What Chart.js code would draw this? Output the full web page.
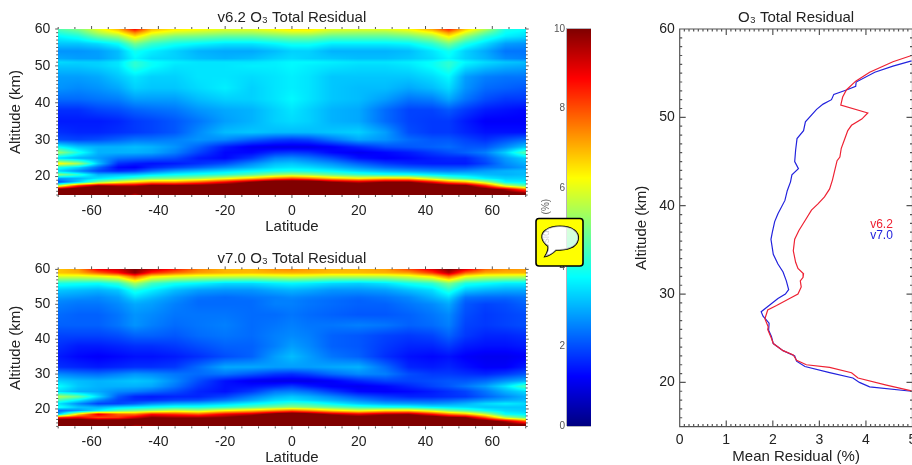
<!DOCTYPE html>
<html><head><meta charset="utf-8">
<style>
html,body{margin:0;padding:0;width:912px;height:465px;overflow:hidden;background:#fff}
canvas{position:absolute}
svg{position:absolute;left:0;top:0}
</style>
<script src="https://cdn.jsdelivr.net/npm/chart.js@4"></script>
</head><body>
<canvas id="top" width="535" height="240" style="left:0;top:0"></canvas>
<canvas id="bottom" width="535" height="240" style="left:0;top:240px"></canvas>
<canvas id="bar" width="70" height="480" style="left:530px;top:0"></canvas>
<canvas id="line" width="320" height="480" style="left:620px;top:0"></canvas>
<svg width="912" height="465">
<path fill-rule="evenodd" d="M539 218.5 H580 A3 3 0 0 1 583 221.5 V263 A3 3 0 0 1 580 266 H539 A3 3 0 0 1 536 263 V221.5 A3 3 0 0 1 539 218.5 Z M548 246 C541 241 540 234 546 230 C552 225 568 225 574 230 C581 235 579 245 570 248 C565 250 560 250 556 250 C552 254 548 256 545 256.5 C547 253 549 250 548 246 Z" fill="#ffff00" stroke="#000" stroke-width="1.6"/>
<path d="M548 246 C541 241 540 234 546 230 C552 225 568 225 574 230 C581 235 579 245 570 248 C565 250 560 250 556 250 C552 254 548 256 545 256.5 C547 253 549 250 548 246 Z" fill="#fff" fill-opacity=".7"/>
</svg>
<script>
const lats=[-70,-64,-58,-52,-47,-42,-35,-28,-20,-12,-5,0,5,12,20,28,35,42,47,52,58,64,70];
const alts=[60,59,58,56,54,52,51,50,47,44,41,38,35,32,30,28,26.5,25,23.5,22.5,21.5,20.5,19.5,18.5,17.5,16.5,15];
const residualV62=[
[4.5,5,6,7,8.8,7,6.5,6.3,6,6,6.3,6.5,6.5,6,6,6,6.3,7.2,8.5,6.8,5.5,4,3.8],
[4.1,4.5,5.5,6.2,7.5,6.3,5.8,5.6,5.4,5.4,5.6,5.8,5.8,5.4,5.3,5.3,5.6,6.2,7.3,6,4.8,3.8,3.6],
[3.7,4,4.8,5.3,6.5,5.5,5,4.9,4.7,4.7,4.9,5,5,4.7,4.7,4.7,4.9,5.4,6.4,5.2,4.2,3.6,3.4],
[3.2,3.2,3.4,3.8,4.9,4.3,3.9,3.7,3.5,3.5,3.7,3.9,3.9,3.6,3.6,3.6,3.7,4.2,4.9,4,3.4,2.8,2.7],
[2.7,2.7,2.8,3.1,3.9,3.6,3.3,3,2.9,2.9,3.1,3.3,3.3,3,3,3,3.1,3.5,3.9,3.3,2.9,2.4,2.4],
[2.9,2.8,2.8,3.1,3.7,3.4,3.3,3.1,3,3.1,3.3,3.4,3.3,3.2,3.1,3.1,3.2,3.4,3.7,3.3,3,2.6,2.5],
[3.4,3.3,3.3,3.5,4.2,3.8,3.6,3.5,3.5,3.5,3.6,3.7,3.7,3.6,3.5,3.5,3.6,3.8,4.2,3.7,3.4,3.2,3.1],
[3.2,3.2,3.3,3.5,4.2,3.8,3.5,3.5,3.5,3.6,3.6,3.7,3.6,3.5,3.4,3.4,3.5,3.8,4.2,3.5,3.2,3,2.9],
[2.8,2.8,2.9,3.2,3.5,3.3,3.3,3.5,3.5,3.4,3.5,3.6,3.5,3.2,3.2,3.2,3.2,3.4,3.7,2.8,2.5,2.4,2.4],
[2.7,2.6,2.7,2.9,3.3,3.2,3.2,3.4,3.6,3.3,3.5,3.6,3.5,3.2,3.1,3.1,2.9,3.1,3.4,2.7,2.3,2.2,2.1],
[2.3,2.3,2.4,2.5,2.8,2.8,2.8,3.1,3.3,3.3,3.5,3.7,3.5,3.2,3.1,2.8,2.4,2.5,2.9,2.4,2,1.8,1.8],
[1.7,1.7,1.9,2,2.2,2.3,2.4,2.7,2.9,3,3.3,3.5,3.3,3,2.9,2.3,1.9,1.9,2.1,1.8,1.5,1.4,1.3],
[1.5,1.5,1.5,1.6,1.8,1.9,2.1,2.4,2.8,3,3.3,3.4,3.3,3,2.9,2.3,1.9,1.8,1.8,1.5,1.2,1.2,1.2],
[1.7,1.6,1.6,1.7,1.8,1.9,2.1,2.6,3.1,3.2,3.1,3.1,3.1,3.2,3.3,2.8,2,1.8,1.8,1.6,1.4,1.4,1.4],
[2,1.9,2,2.2,2.4,2.4,2.5,2.7,2.6,2.2,1.9,1.8,1.9,2.4,2.9,2.7,2.3,2.1,2.1,1.9,1.7,2,2.3],
[3.8,3.2,3,3,3.1,3,2.7,2.2,1.5,1.1,1,1,1,1.2,1.6,2,2.1,2.2,2.3,2.1,2.1,2.6,3.2],
[5.3,4,3,3,3,2.9,2.5,1.9,1.3,1.3,1.7,1.8,1.7,1.3,1.1,1.3,1.5,1.8,2,2.2,2.5,3.3,4.6],
[3.4,3,2.8,2.4,2.3,2.2,2,1.5,1.3,1.8,2.5,2.6,2.4,2,1.4,1.2,1.3,1.5,1.6,1.6,2.1,2.8,3.3],
[6.4,5.4,3.2,1.7,1.5,1.4,1.5,1.7,2,2.6,3.1,3.2,3,2.7,2.2,1.8,1.6,1.5,1.5,1.5,1.9,2.6,3],
[4,3.4,2.3,1.3,1.2,1.6,1.9,2.2,2.6,3,3.4,3.5,3.4,3.1,2.7,2.3,2.1,2,2,2,2.3,2.5,2.8],
[3.3,2.6,1.9,1.6,1.8,2.3,2.8,3.1,3.4,3.7,3.9,4,3.9,3.7,3.3,3,2.8,2.6,2.5,2.6,2.8,3,3.1],
[5.2,4.2,3,3.1,3.2,3.5,3.8,4,4.2,4.6,5.2,5.4,5.2,4.7,4.3,4,3.9,3.6,3.4,3.3,3.1,3,3.1],
[2.8,3,3.5,3.9,4.4,4.8,5,5.3,6,6.8,7.6,8,7.6,6.8,6.3,6.7,6.6,5.5,4.7,4.2,3.6,3.3,3.3],
[1.9,3.2,5,6,6.6,7.2,7.2,7.8,8.8,10,11,11,11,10,9.4,10,10,8.8,7.6,7,5.5,3.7,3.6],
[5.5,8.5,10,9.6,9.6,10.3,10.2,10.4,10.8,11,11,11,11,11,10.8,11,11,11,10.6,10.3,8.4,5.8,4.6],
[10.5,11,11,11,11,11,11,11,11,11,11,11,11,11,11,11,11,11,11,11,10.6,9.6,7.8],
[11,11,11,11,9.3,11,11,11,11,11,11,11,11,11,11,11,11,11,11,11,11,11,11]];
const residualV70=[
[6.8,7.2,8.8,9.2,10,9.3,8.5,7.5,7,7,7.3,7.4,7.2,7,7,7.2,8,9,10,9,7.7,7.3,7.2],
[6.8,7,7.8,8.6,9.9,8.4,7.7,7.2,7,6.9,7,7,7,6.9,6.9,7,7.2,8.2,9.5,7.8,7.1,7,7],
[5.9,5.9,6.1,6.5,7.9,6.5,6.1,5.9,5.8,5.7,5.8,5.9,5.8,5.6,5.6,5.6,5.9,6.5,7.7,6.2,5.8,5.7,5.6],
[4,3.9,3.8,4.2,5.4,4.4,3.9,3.7,3.4,3.4,3.6,3.7,3.6,3.4,3.3,3.5,3.9,4.2,5,4,3.8,3.6,3.6],
[3.2,3.1,3,3.2,4,3.6,3.1,2.8,2.7,2.7,2.9,3,2.9,2.7,2.7,2.8,3.1,3.4,4.1,3.2,3,2.9,2.9],
[2.8,2.7,2.6,2.8,3.4,3.1,2.7,2.4,2.3,2.4,2.5,2.6,2.5,2.4,2.3,2.4,2.6,3,3.4,2.4,2.3,2.3,2.4],
[2.6,2.5,2.5,2.7,3.1,2.9,2.6,2.3,2.3,2.3,2.5,2.5,2.4,2.3,2.2,2.3,2.5,2.8,3.1,2.2,2.1,2.1,2.3],
[2.5,2.4,2.4,2.6,2.9,2.8,2.5,2.3,2.3,2.3,2.5,2.5,2.4,2.3,2.2,2.2,2.4,2.6,2.9,2.1,1.9,2,2.2],
[2.3,2.2,2.2,2.4,2.7,2.6,2.4,2.4,2.4,2.3,2.3,2.4,2.3,2.2,2.1,2.1,2.2,2.4,2.6,2,1.8,1.9,2],
[2.2,2.2,2.2,2.4,2.7,2.5,2.3,2.4,2.5,2.3,2.4,2.5,2.4,2.4,2.5,2.4,2.2,2.3,2.5,1.9,1.8,1.9,2],
[1.9,1.9,1.9,2,2.2,2.2,2.1,2.3,2.4,2.3,2.5,2.6,2.5,2.2,2.1,1.9,1.8,1.9,2.2,1.8,1.6,1.6,1.7],
[1.7,1.5,1.5,1.6,1.7,1.7,1.8,2,2.2,2.2,2.5,2.8,2.6,2.2,2.1,1.8,1.6,1.6,1.8,1.5,1.4,1.4,1.5],
[1.5,1.3,1.2,1.3,1.4,1.4,1.5,1.7,2,2.2,2.8,3.1,2.8,2.4,2.2,1.7,1.4,1.3,1.4,1.2,1.1,1.1,1.2],
[1.7,1.6,1.5,1.6,1.7,1.7,1.8,2.3,2.9,2.9,2.8,2.8,2.8,2.9,3,2.3,1.6,1.5,1.6,1.4,1.2,1.2,1.5],
[2.6,2.4,2.3,2.5,2.7,2.6,2.4,2.3,2.4,2.1,1.8,1.7,1.9,2.3,2.6,2.5,2,1.8,1.8,1.7,1.6,1.8,2.1],
[3.3,3.1,3,3.1,3.2,3.1,2.6,2,1.4,1.1,1,1,1,1.2,1.6,1.9,1.9,2,2.1,2.1,2.3,2.7,3],
[3.8,3.2,3,3,3,2.9,2.4,1.8,1.4,1.4,1.6,1.8,1.5,1.2,1.1,1.3,1.6,1.9,2.1,2.4,2.8,3.5,4.5],
[3.4,3,2.9,2.6,2.5,2.3,2,1.6,1.4,1.8,2.4,2.5,2.3,1.8,1.3,1.2,1.3,1.5,1.7,1.9,2.4,3,3.4],
[5.5,4.8,3.4,2.1,1.6,1.5,1.6,1.6,1.9,2.5,3,3.2,3,2.6,2.1,1.8,1.6,1.6,1.7,1.8,2.2,2.6,3],
[4.4,3.6,2.6,1.9,1.7,1.7,1.9,2,2.4,2.9,3.4,3.5,3.3,3,2.6,2.2,2.1,2.1,2.2,2.4,2.7,2.9,3.1],
[3.5,2.6,1.9,1.9,2.2,2.6,2.9,3,3.3,3.7,4,4.3,4.2,3.7,3.2,2.9,2.8,2.7,2.8,3,3.4,3.6,3.4],
[4,3.2,3,3.4,3.6,3.8,4,4,4.2,4.6,5,5.2,5,4.7,4.3,4,3.9,3.6,3.5,3.4,3.2,3.2,3.2],
[2.2,2.7,3.6,4.6,5,5.3,5.8,5.5,6.3,6.8,7.4,7.8,7.4,6.6,6,6.6,6.6,5.8,5,4.5,3.8,3.4,3.3],
[3,6.5,9,7.8,7.6,8.6,8.3,7.9,8.9,9.4,10.5,11,10.5,9.6,9,9.6,9.8,8.6,7.6,7,5.6,3.8,3.6],
[8.6,9,8,8.3,9.2,10,9.8,9.8,10,10.8,11,11,11,11,10.6,11,11,11,10.3,10,8,5.6,4.6],
[11,11,11,11,11,11,11,11,11,11,11,11,11,11,11,11,11,11,11,11,10.6,9.5,7.8],
[11,11,11,11,9.3,9.6,10.3,11,11,11,11,11,11,11,11,11,11,11,11,11,11,11,11]];
const profileAltV62=[57,56.3,55.1,54.1,53.1,52.3,51.4,50.5,49.8,49.1,48.5,47.5,46.5,45.5,45.1,44,42.9,41.9,41,40.2,39.5,38.3,37.2,36.2,34.9,33.6,32.9,32.3,31.9,31.5,30.8,30,29.5,28.7,28.2,27.2,26.3,26,25,24.4,23.6,23.1,22.5,22,21.7,21.1,20.5,19.7,19.05];
const profileValV62=[4.98,4.58,4.08,3.78,3.58,3.5,3.46,4.04,3.91,3.69,3.61,3.54,3.47,3.44,3.38,3.33,3.28,3.22,3.11,2.97,2.83,2.69,2.56,2.47,2.44,2.49,2.54,2.66,2.65,2.59,2.61,2.54,2.36,2.08,1.89,1.83,1.9,1.89,1.97,2.01,2.22,2.44,2.51,2.72,3.22,3.69,3.83,4.44,4.98];
const profileAltV70=[56.4,55.8,55.1,54,53.5,53.1,52.6,52,51.5,50.9,49.5,48.5,47.6,46.3,45,44.2,43.5,42.7,41.7,40.6,39.1,38.2,37,36.2,34.5,33.4,32.5,31.5,30.5,30,29.5,28,27.5,26.7,25.9,25.2,24.4,23.6,23,22.4,21.8,21.1,20.5,20,19.5,19];
const profileValV70=[4.98,4.58,4.19,3.79,3.78,3.58,3.31,3.26,3.08,2.94,2.7,2.66,2.52,2.49,2.47,2.55,2.41,2.38,2.31,2.26,2.11,2.04,1.99,1.96,2.01,2.11,2.22,2.29,2.34,2.27,2.11,1.75,1.79,1.92,1.91,1.97,2.01,2.22,2.47,2.51,2.69,3.22,3.72,3.86,4.08,4.98];
const latTicks=[-60,-40,-20,0,20,40,60];
const altTicks=[20,30,40,50,60];
const meanTicks=[0,1,2,3,4,5];
const scaleTicks=[0,2,4,6,8,10];
const seriesNames=['v6.2','v7.0'];

const FONT='"Liberation Sans",Arial,sans-serif';
const TXT='#222';
const clamp=(x)=>Math.max(0,Math.min(1,x));
function jet(v){const t=clamp(v/10);return [
  clamp(Math.min(4*t-1.5,-4*t+4.5))*255,
  clamp(Math.min(4*t-0.5,-4*t+3.5))*255,
  clamp(Math.min(4*t+0.5,-4*t+2.5))*255];}
function sample(grid,lat,alt){
  let i=0;while(i<lats.length-2&&lat>lats[i+1])i++;
  let j=0;while(j<alts.length-2&&alt<alts[j+1])j++;
  const a=clamp((lat-lats[i])/(lats[i+1]-lats[i]));
  const b=clamp((alts[j]-alt)/(alts[j]-alts[j+1]));
  return (grid[j][i]*(1-a)+grid[j][i+1]*a)*(1-b)+(grid[j+1][i]*(1-a)+grid[j+1][i+1]*a)*b;
}
const paintHeat={id:'paintHeat',beforeDatasetsDraw(c,_,o){
  if(!o.grid)return;
  const A=c.chartArea,x=c.scales.x,y=c.scales.y;
  const x0=Math.round(A.left),y0=Math.round(A.top),w=Math.round(A.right)-x0,h=Math.round(A.bottom)-y0;
  const img=c.ctx.createImageData(w,h);let k=0;
  for(let py=0;py<h;py++){const alt=y.getValueForPixel(y0+py+.5);
    for(let px=0;px<w;px++){const lat=x.getValueForPixel(x0+px+.5);
      const col=jet(sample(o.grid,lat,alt));
      img.data[k++]=col[0];img.data[k++]=col[1];img.data[k++]=col[2];img.data[k++]=255;}}
  c.ctx.putImageData(img,x0,y0);
}};
const paintBar={id:'paintBar',beforeDatasetsDraw(c,_,o){
  if(!o.on)return;
  const A=c.chartArea,y=c.scales.y,ctx=c.ctx;
  for(let py=Math.floor(A.top);py<A.bottom;py++){
    const col=jet(y.getValueForPixel(py+.5));
    ctx.fillStyle=`rgb(${col[0]},${col[1]},${col[2]})`;
    ctx.fillRect(A.left,py,A.right-A.left,1.2);
  }
  ctx.fillStyle='#b4b4bc';
  ctx.fillRect(A.left-1,A.top-1,A.right-A.left+1,1);
  ctx.fillRect(A.left-1,A.top,1,A.bottom-A.top);
  ctx.fillRect(A.left,A.bottom,A.right-A.left,1);
}};
const frameTicks={id:'frameTicks',afterDatasetsDraw(c,_,o){
  if(!o.minorX)return;
  const A=c.chartArea,ctx=c.ctx,X=c.scales.x,Y=c.scales.y;
  ctx.save();ctx.strokeStyle=o.color;ctx.lineWidth=o.width;
  ctx.beginPath();
  if(o.box){ctx.rect(A.left,A.top,A.right-A.left,A.bottom-A.top);}
  const seg=(a,b,d,e)=>{ctx.moveTo(a,b);ctx.lineTo(d,e);};
  const s=o.sign;
  for(let i=0,v=X.min;v<=X.max+1e-6;i++,v=X.min+i*o.minorX){
    const p=X.getPixelForValue(v),r=Math.abs(v/o.majorX-Math.round(v/o.majorX)),L=(r<1e-6?o.major:o.minor)*s;
    seg(p,A.bottom,p,A.bottom-L);seg(p,A.top,p,A.top+L);
  }
  for(let i=0,v=Y.min;v<=Y.max+1e-6;i++,v=Y.min+i*o.minorY){
    const p=Y.getPixelForValue(v),r=Math.abs(v/o.majorY-Math.round(v/o.majorY)),L=(r<1e-6?o.major:o.minor)*s;
    seg(A.left,p,A.left+L,p);seg(A.right,p,A.right-L,p);
  }
  ctx.stroke();ctx.restore();
}};
const notes={id:'notes',afterDraw(c,_,o){
  if(!o.items)return;
  const ctx=c.ctx;ctx.save();ctx.font='12px '+FONT;ctx.textAlign='left';ctx.textBaseline='middle';
  o.items.forEach(n=>{ctx.fillStyle=n.color;ctx.fillText(n.text,c.scales.x.getPixelForValue(n.x),c.scales.y.getPixelForValue(n.y));});
  ctx.restore();
}};
Chart.register(paintHeat,paintBar,frameTicks,notes);
Chart.defaults.animation=false;
Chart.defaults.font.family=FONT;

const noGrid={display:false,drawTicks:false};
function fixedTicks(list){return s=>{s.ticks=list.map(v=>({value:v}));};}
function heat(id,grid,name,xTitlePad){
  const pts=[];alts.forEach((a,j)=>lats.forEach((l,i)=>pts.push({x:l,y:a,v:grid[j][i]})));
  const area=id==='top'?{top:29,bottom:195}:{top:29.4,bottom:186.4};
  return new Chart(document.getElementById(id),{type:'scatter',
    data:{datasets:[{label:name,data:pts,pointRadius:0,showLine:false}]},
    options:{responsive:false,layout:{padding:{left:0,top:0,right:535-525.7,bottom:0}},
      plugins:{legend:{display:false},tooltip:{enabled:false},
        title:{display:true,fullSize:false,text:name+' O₃ Total Residual',color:TXT,font:{size:15,weight:'normal'},
          padding:{top:area.top-20,bottom:2}},
        paintHeat:{grid},
        frameTicks:{minorX:5,majorX:20,minorY:1,majorY:10,major:3,minor:2,sign:-1,color:'#555',width:1,box:false}},
      scales:{
        x:{type:'linear',min:-70,max:70,afterBuildTicks:fixedTicks(latTicks),
          afterFit:s=>{s.height=240-area.bottom;},
          grid:noGrid,border:{display:false},
          ticks:{color:TXT,font:{size:14},padding:7.5,maxRotation:0,autoSkip:false},
          title:{display:true,text:'Latitude',color:TXT,font:{size:15},padding:{top:0,bottom:xTitlePad}}},
        y:{type:'linear',min:15,max:60,afterBuildTicks:fixedTicks(altTicks),
          afterFit:s=>{s.width=58.2;},
          grid:noGrid,border:{display:false},
          ticks:{color:TXT,font:{size:14},padding:8,autoSkip:false},
          title:{display:true,text:'Altitude (km)',color:TXT,font:{size:15},padding:{top:7,bottom:0}}}
      }}});
}
heat('top',residualV62,seriesNames[0],4);
heat('bottom',residualV70,seriesNames[1],13);

new Chart(document.getElementById('bar'),{type:'scatter',
  data:{datasets:[{label:'Residual (%)',data:scaleTicks.map(v=>({x:0.5,y:v})),pointRadius:0}]},
  options:{responsive:false,layout:{padding:{top:29,right:9,bottom:0,left:0}},
    plugins:{legend:{display:false},tooltip:{enabled:false},paintBar:{on:true}},
    scales:{
      x:{type:'linear',min:0,max:1,display:true,afterFit:s=>{s.height=480-426;},grid:noGrid,border:{display:false},ticks:{display:false}},
      y:{type:'linear',min:0,max:10,afterBuildTicks:fixedTicks(scaleTicks),afterFit:s=>{s.width=37;},
        grid:noGrid,border:{display:false},
        ticks:{color:'#555',font:{size:10},padding:2,autoSkip:false},
        title:{display:true,text:'Residual (%)',color:'#666',font:{size:10},padding:{top:10,bottom:0}}}
    }}});

const profile=(a,v)=>a.map((y,i)=>({x:v[i],y}));
new Chart(document.getElementById('line'),{type:'scatter',
  data:{datasets:[
    {label:seriesNames[0],data:profile(profileAltV62,profileValV62),showLine:true,borderColor:'#ee2233',borderWidth:1.2,pointRadius:0,tension:0},
    {label:seriesNames[1],data:profile(profileAltV70,profileValV70),showLine:true,borderColor:'#2222dd',borderWidth:1.2,pointRadius:0,tension:0}]},
  options:{responsive:false,layout:{padding:{left:0,top:0,right:27.5,bottom:0}},
    plugins:{legend:{display:false},tooltip:{enabled:false},
      title:{display:true,fullSize:false,text:'O₃ Total Residual',color:TXT,font:{size:15,weight:'normal'},padding:{top:9,bottom:2}},
      frameTicks:{minorX:0.1,majorX:1,minorY:1,majorY:10,major:6,minor:2.5,sign:1,color:'#555',width:1.2,box:true},
      notes:{items:[{text:seriesNames[0],x:4.09,y:37.85,color:'#ee2233'},{text:seriesNames[1],x:4.09,y:36.6,color:'#2222dd'}]}},
    scales:{
      x:{type:'linear',min:0,max:5,afterBuildTicks:fixedTicks(meanTicks),afterFit:s=>{s.height=480-426.6;},
        grid:noGrid,border:{display:false},
        ticks:{color:TXT,font:{size:14},padding:5,autoSkip:false,maxRotation:0},
        title:{display:true,text:'Mean Residual (%)',color:TXT,font:{size:15},padding:{top:0,bottom:14.5}}},
      y:{type:'linear',min:15,max:60,afterBuildTicks:fixedTicks(altTicks),afterFit:s=>{s.width=59.7;},
        grid:noGrid,border:{display:false},
        ticks:{color:TXT,font:{size:14},padding:5,autoSkip:false},
        title:{display:true,text:'Altitude (km)',color:TXT,font:{size:15},padding:{top:13,bottom:0}}}
    }}});
</script>
</body></html>
